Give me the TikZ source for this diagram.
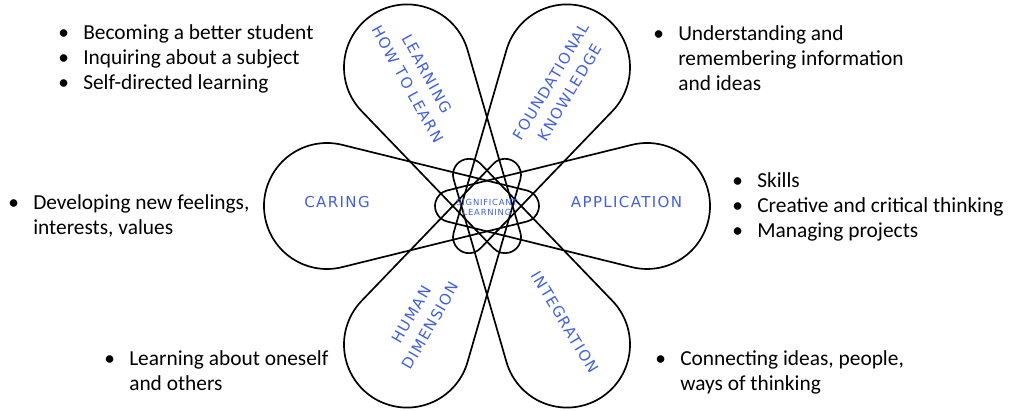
\documentclass[tikz,border=0pt]{standalone}
\usepackage{fontspec}
\setmainfont{Carlito}
\newfontfamily\petalfont[LetterSpace=9]{DejaVu Sans}
\definecolor{petalblue}{RGB}{65,95,225}
\tikzset{
  petal/.style={draw=black,line width=1.2pt},
  petallabel/.style={text=petalblue,align=center,inner sep=0pt,font=\petalfont\fontsize{10.7}{15.6}\selectfont},
  corelabel/.style={text=petalblue,align=center,inner sep=0pt,font=\petalfont\fontsize{6}{7.1}\selectfont},
  bullets/.style={anchor=base west,align=left,inner sep=0pt,font=\fontsize{15.2}{18.1}\selectfont}
}
\newcommand{\bpt}{\makebox[0.625cm][l]{\textbullet}}
\newcommand{\bgap}{\hspace*{0.625cm}}
\begin{document}
\begin{tikzpicture}[x=0.025cm,y=0.025cm]
\useasboundingbox (0,0) rectangle (1012,411);
\pgfmathsetmacro{\pb}{acos(-(63-16)/196)}
\pgfmathsetmacro{\pe}{\pb-360}
\foreach \a in {0,60,...,300}{\draw[petal,shift={(487,205)},rotate=\a] ({160+63*cos(\pb)},{63*sin(\pb)}) arc[start angle=\pb,end angle=-\pb,radius=63] -- ({-36+16*cos(\pb)},{-16*sin(\pb)}) arc[start angle=-\pb,end angle=\pe,radius=16] -- cycle;}
\node[petallabel] (care) at (337,209) {CARING};
\node[petallabel] (appl) at (626.5,209) {APPLICATION};
\node[petallabel,rotate=-61] (lhtl) at (417.5,332) {LEARNING\\HOW TO LEARN};
\node[petallabel,rotate=59] (fk) at (560.5,324) {FOUNDATIONAL\\KNOWLEDGE};
\node[petallabel,rotate=60] (hd) at (421,91) {HUMAN\\DIMENSION};
\node[petallabel,rotate=-59] (integ) at (565,89) {INTEGRATION};
\node[corelabel] (sl) at (487,204) {SIGNIFICANT\\LEARNING};
\node[bullets] (ltl) at (58,321) {\bpt Becoming a better student\\\bpt Inquiring about a subject\\\bpt Self-directed learning};
\node[bullets] (lfk) at (653,320) {\bpt Understanding and\\\bgap remembering information\\\bgap and ideas};
\node[bullets] (lcare) at (8,176.5) {\bpt Developing new feelings,\\\bgap interests, values};
\node[bullets] (lappl) at (732,173) {\bpt Skills\\\bpt Creative and critical thinking\\\bpt Managing projects};
\node[bullets] (lhd) at (104,20.5) {\bpt Learning about oneself\\\bgap and others};
\node[bullets] (linteg) at (655,20.5) {\bpt Connecting ideas, people,\\\bgap ways of thinking};
\end{tikzpicture}
\end{document}
